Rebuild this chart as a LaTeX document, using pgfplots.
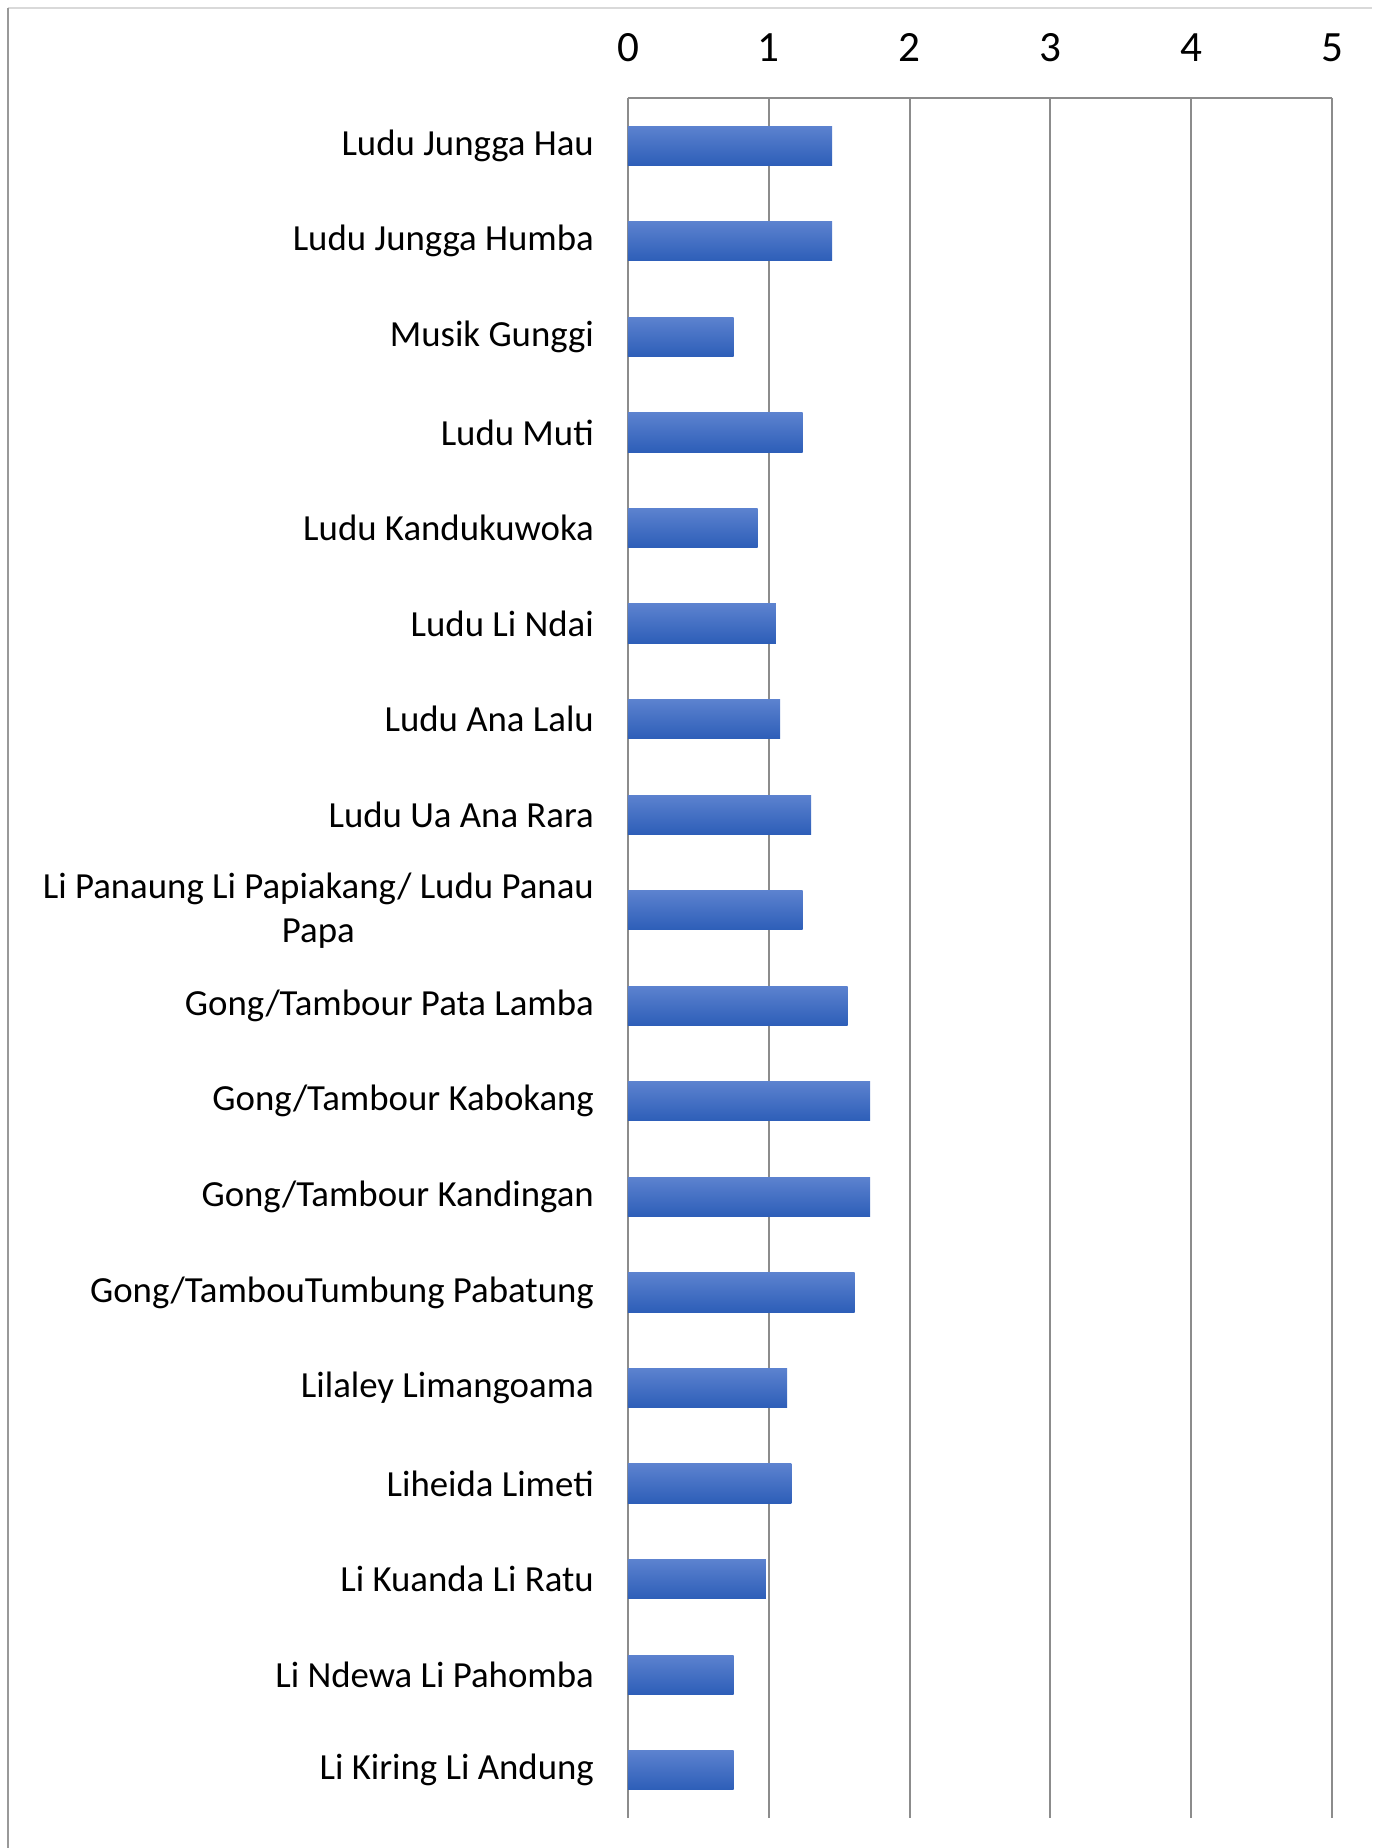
\documentclass[border=0pt]{standalone}
\usepackage{pgfplots}
\pgfplotsset{compat=1.18}
\usepackage{fontspec}
\setmainfont{Carlito}
\definecolor{gridgray}{HTML}{8C8C8C}
\definecolor{bartop}{HTML}{5C82CF}
\definecolor{barbot}{HTML}{2D5EB8}
\pgfplotsset{onebar/.style={draw=none, top color=bartop, bottom color=barbot, bar shift=0pt}}
\begin{document}
\begin{tikzpicture}
% frame of the chart area, cropped as in the source
\path[use as bounding box] (-157pt,-7.5pt) rectangle (186pt,454.5pt);
\draw[gray!30, line width=0.5pt] (-155pt,452.5pt) -- (186pt,452.5pt);
\draw[gray!80, line width=0.7pt] (-155pt,452.5pt) -- (-155pt,-7.5pt);
\begin{axis}[
    at={(0,0)}, anchor=south west,
    scale only axis,
    width=176pt, height=430pt,
    xbar, bar width=9.8pt,
    xmin=0, xmax=5,
    ymin=-0.5, ymax=17.5,
    y dir=reverse,
    axis x line*=top, axis y line*=left,
    axis line style={gridgray, line width=0.5pt},
    xtick={0,1,2,3,4,5},
    xticklabel pos=top,
    xticklabel style={font=\fontsize{10.8}{12}\selectfont, yshift=5.5pt},
    /pgf/number format/assume math mode=true,
    ytick={0,...,17},
    yticklabels={Ludu Jungga Hau, Ludu Jungga Humba, Musik Gunggi, Ludu Muti,
      Ludu Kandukuwoka, Ludu Li Ndai, Ludu Ana Lalu, Ludu Ua Ana Rara,
      {Li Panaung Li Papiakang/ Ludu Panau\\Papa}, Gong/Tambour Pata Lamba,
      Gong/Tambour Kabokang, Gong/Tambour Kandingan, Gong/TambouTumbung Pabatung,
      Lilaley Limangoama, Liheida Limeti, Li Kuanda Li Ratu, Li Ndewa Li Pahomba,
      Li Kiring Li Andung},
    yticklabel style={font=\fontsize{9.2}{11}\selectfont, align=center, xshift=-5pt},
    major tick length=0pt,
    xmajorgrids, grid style={gridgray, line width=0.5pt},
]
% one plot per bar so that each bar gets its own gradient
\addplot[onebar] coordinates {(1.45,0)};
\addplot[onebar] coordinates {(1.45,1)};
\addplot[onebar] coordinates {(0.75,2)};
\addplot[onebar] coordinates {(1.24,3)};
\addplot[onebar] coordinates {(0.92,4)};
\addplot[onebar] coordinates {(1.05,5)};
\addplot[onebar] coordinates {(1.08,6)};
\addplot[onebar] coordinates {(1.30,7)};
\addplot[onebar] coordinates {(1.24,8)};
\addplot[onebar] coordinates {(1.56,9)};
\addplot[onebar] coordinates {(1.72,10)};
\addplot[onebar] coordinates {(1.72,11)};
\addplot[onebar] coordinates {(1.61,12)};
\addplot[onebar] coordinates {(1.13,13)};
\addplot[onebar] coordinates {(1.16,14)};
\addplot[onebar] coordinates {(0.98,15)};
\addplot[onebar] coordinates {(0.75,16)};
\addplot[onebar] coordinates {(0.75,17)};
\end{axis}
\end{tikzpicture}
\end{document}
